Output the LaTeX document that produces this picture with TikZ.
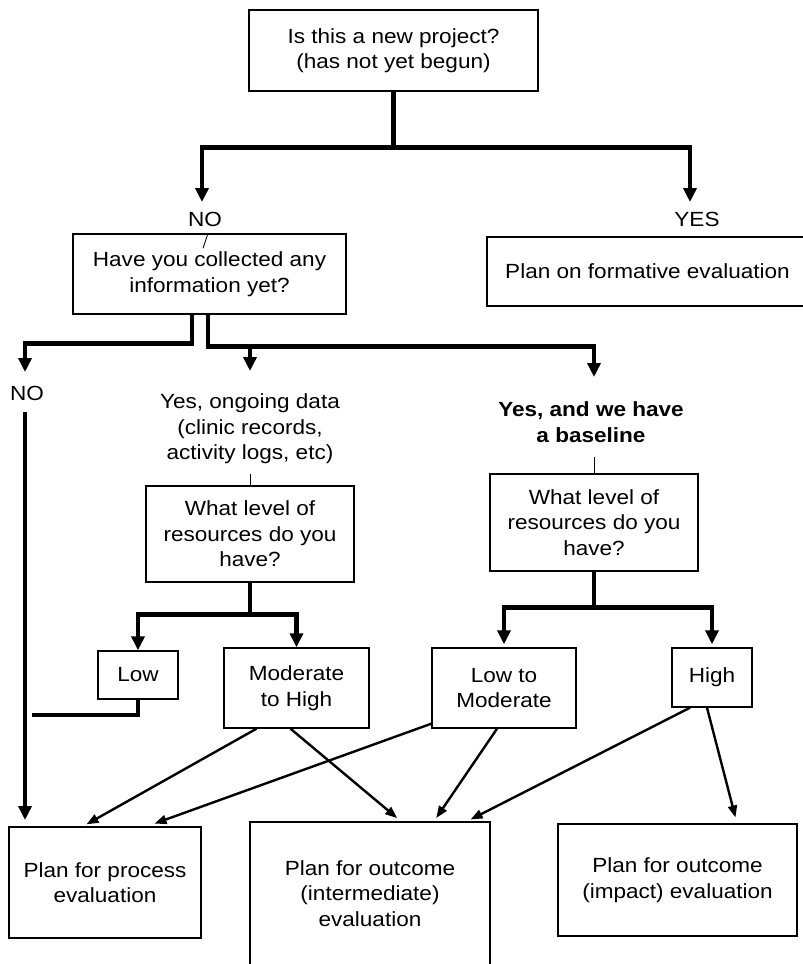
\documentclass[tikz,border=0pt]{standalone}
\usepackage{fontspec}
\setmainfont{Liberation Sans}[FakeStretch=1.1]
\usetikzlibrary{arrows.meta}
\begin{document}
\begin{tikzpicture}[x=1pt,y=-1pt,
  every node/.style={font=\fontsize{20.5pt}{25.5pt}\selectfont, align=center},
  box/.style={draw, line width=1.4pt, inner sep=2pt},
  lbl/.style={inner sep=1pt},
  heavy/.style={line width=4.5pt, line join=miter},
  heavyarrow/.style={heavy, -{Triangle[width=13pt,length=14pt]}},
  lightarrow/.style={line width=2.4pt, -{Triangle[width=9pt,length=12pt]}},
  hairline/.style={line width=0.9pt}]
\useasboundingbox (0,0) rectangle (803,964);

% question boxes
\node[box, minimum width=289pt, minimum height=81pt] (top) at (393.5,50.5)
  {Is this a new project?\\(has not yet begun)};
\node[box, minimum width=273pt, minimum height=80pt] (collected) at (209.5,274)
  {Have you collected any\\information yet?};
\node[box, minimum width=321pt, minimum height=69pt] (formative) at (647.5,271.5)
  {Plan on formative evaluation};
\node[box, minimum width=208pt, minimum height=96pt] (resA) at (250,534)
  {What level of\\resources do you\\have?};
\node[box, minimum width=208pt, minimum height=97pt] (resB) at (594,522.5)
  {What level of\\resources do you\\have?};

% resource levels
\node[box, minimum width=80pt, minimum height=48pt] (low) at (138,675) {Low};
\node[box, minimum width=145pt, minimum height=80pt] (modhigh) at (296.5,688) {Moderate\\to High};
\node[box, minimum width=144pt, minimum height=80pt] (lowmod) at (504,688) {Low to\\Moderate};
\node[box, minimum width=80pt, minimum height=59pt] (high) at (712,677.5) {High};

% evaluation plans
\node[box, minimum width=192pt, minimum height=111pt] (process) at (105,882.5)
  {Plan for process\\evaluation};
\node[box, minimum width=240pt, minimum height=153pt] (inter) at (370,898.5)
  {Plan for outcome\\(intermediate)\\evaluation\\[-15pt]};
\node[box, minimum width=239pt, minimum height=112pt] (impact) at (677.5,880)
  {Plan for outcome\\(impact) evaluation};

% answer labels
\node[lbl] (no1) at (205,219) {NO};
\node[lbl] (yes1) at (697,219) {YES};
\node[lbl] (no2) at (27,393) {NO};
\node[lbl] (ongoing) at (250,429) {Yes, ongoing data\\(clinic records,\\activity logs, etc)};
\node[lbl, font=\fontsize{20.5pt}{25.5pt}\selectfont\bfseries] (baseline) at (591,422)
  {Yes, and we have\\a baseline};

% arrow ends
\coordinate (no1tip) at (202,202);
\coordinate (yes1tip) at (690,202);
\coordinate (no2tip) at (25,372);
\coordinate (ongtip) at (250,371);
\coordinate (basetip) at (594,377);
\coordinate (branch) at (250,346);
\coordinate (nostem) at (25,412);
\coordinate (procin) at (25,820);
\coordinate (lowend) at (32,715);

% first decision
\draw[heavyarrow] (top.south) -- ++(0,56) coordinate (split) -| (no1tip);
\draw[heavyarrow] (split) -| (yes1tip);

% second decision
\draw[heavyarrow] ([xshift=-17.5pt]collected.south) -- ++(0,29) -| (no2tip);
\draw[heavyarrow] ([xshift=-1.5pt]collected.south) -- ++(0,32) -| (basetip);
\draw[heavyarrow] (branch) -- (ongtip);
\draw[heavyarrow] (nostem) -- (procin);

% resource splits
\draw[heavy] (resA.south) -- ++(0,32) coordinate (splitA);
\draw[heavyarrow] (splitA) -| (low.north);
\draw[heavyarrow] (splitA) -| (modhigh.north);
\draw[heavy] (low.south) |- (lowend);
\draw[heavy] (resB.south) -- ++(0,36) coordinate (splitB);
\draw[heavyarrow] (splitB) -| ([yshift=3pt]lowmod.north);
\draw[heavyarrow] (splitB) -| ([yshift=3pt]high.north);

% thin tick lines
\draw[hairline] ([xshift=-1.5pt]collected.north) -- ++(-5,15);
\draw[hairline] (resA.north) -- ++(0,-11);
\draw[hairline] (resB.north) -- ++(0,-16);

% plans reached from each level
\draw[lightarrow, shorten >=4pt] ([xshift=-40pt]modhigh.south) -- ([xshift=-22pt]process.north);
\draw[lightarrow, shorten >=5pt] ([xshift=-6pt]modhigh.south) -- ([xshift=31pt]inter.north);
\draw[lightarrow, shorten >=8pt] ([yshift=5pt]lowmod.south west) -- ([xshift=42pt]process.north);
\draw[lightarrow, shorten >=4pt] ([xshift=-7pt]lowmod.south) -- ([xshift=64pt]inter.north);
\draw[lightarrow, shorten >=4pt] ([xshift=-22pt]high.south) -- ([xshift=97pt]inter.north);
\draw[lightarrow, shorten >=6pt] ([xshift=-5pt]high.south) -- ([xshift=59.5pt]impact.north);
\end{tikzpicture}
\end{document}
